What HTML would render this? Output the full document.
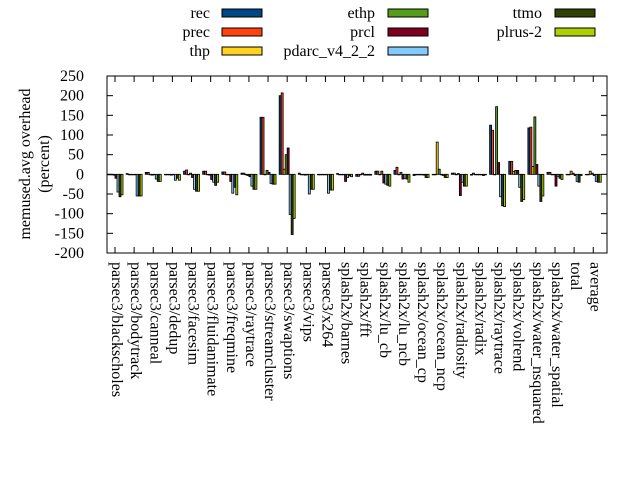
<!DOCTYPE html>
<html><head><meta charset="utf-8"><style>body{margin:0;background:#fff}svg{display:block}text{font-family:"Liberation Serif",serif;font-size:16px;fill:#000}</style></head>
<body><svg id="s" width="640" height="480" xmlns="http://www.w3.org/2000/svg"></svg>
<script>
const s=document.getElementById('s');let h='';
const L=107,R=607,T=76,B=253,sc=(B-T)/450,y0=T+250*sc;
const Y=v=>y0-v*sc;
const cols=['#004586','#ff420e','#ffd320','#579d1c','#7e0021','#83caff','#314004','#aecf00'];
const names=['parsec3/blackscholes','parsec3/bodytrack','parsec3/canneal','parsec3/dedup','parsec3/facesim','parsec3/fluidanimate','parsec3/freqmine','parsec3/raytrace','parsec3/streamcluster','parsec3/swaptions','parsec3/vips','parsec3/x264','splash2x/barnes','splash2x/fft','splash2x/lu_cb','splash2x/lu_ncb','splash2x/ocean_cp','splash2x/ocean_ncp','splash2x/radiosity','splash2x/radix','splash2x/raytrace','splash2x/volrend','splash2x/water_nsquared','splash2x/water_spatial','total','average'];
const d=[[0,0,0,-2,-10,-45,-57,-52],[2,0,0,0,0,-55,-55,-55],[5,5,0,-2,0,-12,-18,-18],[0,0,0,-2,0,-15,-10,-15],[8,11,0,3,-8,-38,-43,-43],[8,8,0,-2,-13,-20,-28,-20],[6,6,0,0,-18,-48,-33,-52],[3,3,0,-3,-6,-30,-38,-38],[145,145,0,10,5,-23,-25,-25],[200,207,13,50,67,-102,-153,-112],[3,0,0,-2,0,-50,-38,-38],[0,0,0,0,0,-48,-40,-40],[2,0,0,0,-18,-8,-4,-6],[-5,-5,0,3,-2,-2,-2,-2],[8,8,0,8,-22,-25,-28,-30],[10,18,0,5,-12,-10,-12,-20],[-3,0,0,0,0,-2,-8,-8],[0,0,82,13,0,-3,-8,-8],[3,3,0,2,-54,-20,-30,-30],[-2,3,0,0,0,0,-3,0],[125,112,0,172,30,-57,-80,-82],[33,33,7,10,10,-33,-69,-64],[118,120,20,146,25,-30,-69,-55],[5,5,0,0,-30,-5,-10,-13],[0,0,8,3,-3,-18,-20,-3],[0,0,8,3,-3,-18,-20,-20]];
const step=19.13;
for(let v=-200;v<=250;v+=50){const y=Y(v);h+=`<line x1="${L}" y1="${y}" x2="${L+6}" y2="${y}" stroke="#000"/><line x1="${R}" y1="${y}" x2="${R-6}" y2="${y}" stroke="#000"/><text x="84" y="${y+5}" text-anchor="end">${v}</text>`;}
names.forEach((n,i)=>{const c=115+step*i;
h+=`<line x1="${c}" y1="${B}" x2="${c}" y2="${B-6}" stroke="#000"/><line x1="${c}" y1="${T}" x2="${c}" y2="${T+6}" stroke="#000"/>`;
h+=`<text transform="translate(${c-3},262) rotate(90)">${n}</text>`;
d[i].forEach((v,k)=>{const x=c-8+k*2;const y1=Math.min(Y(v),y0),y2=Math.max(Y(v),y0);
h+=`<rect x="${x}" y="${y1}" width="2" height="${Math.max(y2-y1,0.5)}" fill="${cols[k]}" stroke="#000" stroke-width="0.8"/>`;});});
h+=`<rect x="${L}" y="${T}" width="${R-L}" height="${B-T}" fill="none" stroke="#000"/>`;
h+=`<text transform="translate(30,164) rotate(-90)" text-anchor="middle">memused.avg overhead</text><text transform="translate(49,164) rotate(-90)" text-anchor="middle">(percent)</text>`;
const leg=[['rec',210,222,13],['prec',210,222,32],['thp',210,222,51],['ethp',375,388,13],['prcl',375,388,32],['pdarc_v4_2_2',375,388,51],['ttmo',542,555,13],['plrus-2',542,555,32]];
leg.forEach((l,k)=>{h+=`<text x="${l[1]}" y="${l[3]+5}" text-anchor="end">${l[0]}</text><rect x="${l[2]}" y="${l[3]-4}" width="40" height="8" fill="${cols[k]}" stroke="#000"/>`;});
s.innerHTML=h;
</script></body></html>
